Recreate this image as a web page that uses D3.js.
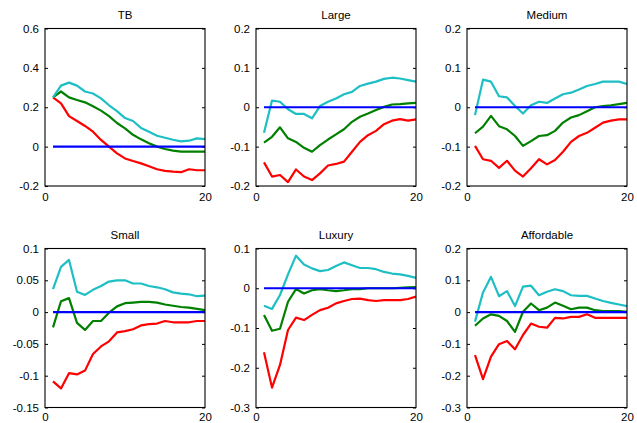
<!DOCTYPE html>
<html><head><meta charset="utf-8">
<script src="https://cdn.jsdelivr.net/npm/d3@7"></script>
<style>body{margin:0;background:#fff}svg{display:block}text{font-family:"Liberation Sans",Arial,sans-serif}</style>
</head><body>
<script>
const periods = d3.range(1, 21);
const panelTitles = ["TB", "Large", "Medium", "Small", "Luxury", "Affordable"];
const yDomains = [[-0.2, 0.6], [-0.2, 0.2], [-0.2, 0.2], [-0.15, 0.1], [-0.3, 0.1], [-0.3, 0.2]];
const yTicks = [
  [-0.2, 0, 0.2, 0.4, 0.6],
  [-0.2, -0.1, 0, 0.1, 0.2],
  [-0.2, -0.1, 0, 0.1, 0.2],
  [-0.15, -0.1, -0.05, 0, 0.05, 0.1],
  [-0.3, -0.2, -0.1, 0, 0.1],
  [-0.3, -0.2, -0.1, 0, 0.1, 0.2]
];
const xTicks = [0, 20];

const upper = [
  [0.25,0.31,0.325,0.31,0.28,0.27,0.245,0.21,0.18,0.145,0.13,0.095,0.075,0.055,0.045,0.035,0.027,0.03,0.042,0.038],
  [-0.065,0.017,0.014,-0.005,-0.017,-0.017,-0.028,0.003,0.014,0.022,0.033,0.039,0.054,0.06,0.065,0.072,0.075,0.073,0.069,0.065],
  [-0.02,0.07,0.065,0.028,0.025,0.003,-0.016,0.005,0.014,0.011,0.022,0.033,0.037,0.045,0.054,0.059,0.065,0.065,0.065,0.059],
  [0.036,0.071,0.082,0.032,0.027,0.035,0.041,0.048,0.05,0.05,0.045,0.045,0.041,0.039,0.036,0.031,0.029,0.028,0.025,0.026],
  [-0.044,-0.052,-0.017,0.035,0.082,0.06,0.05,0.043,0.046,0.056,0.065,0.058,0.051,0.051,0.048,0.041,0.037,0.035,0.031,0.026],
  [-0.03,0.062,0.111,0.05,0.066,0.019,0.08,0.083,0.053,0.064,0.072,0.066,0.053,0.051,0.051,0.043,0.035,0.029,0.024,0.019]
];
const median = [
  [0.25,0.28,0.25,0.237,0.225,0.205,0.183,0.155,0.12,0.093,0.06,0.037,0.017,0,-0.012,-0.02,-0.025,-0.025,-0.025,-0.025],
  [-0.09,-0.075,-0.051,-0.079,-0.088,-0.103,-0.113,-0.096,-0.082,-0.069,-0.056,-0.037,-0.024,-0.016,-0.007,0.001,0.007,0.008,0.01,0.011],
  [-0.066,-0.049,-0.022,-0.048,-0.056,-0.073,-0.098,-0.086,-0.073,-0.071,-0.06,-0.039,-0.026,-0.02,-0.01,0,0.003,0.005,0.008,0.011],
  [-0.024,0.017,0.022,-0.017,-0.028,-0.014,-0.014,-0.001,0.009,0.014,0.015,0.016,0.016,0.015,0.012,0.01,0.008,0.007,0.005,0.003],
  [-0.067,-0.107,-0.102,-0.034,-0.002,-0.013,-0.005,-0.002,-0.005,-0.007,-0.005,-0.002,-0.002,0,0,0,0,0.001,0.002,0.003],
  [-0.043,-0.02,-0.007,-0.012,-0.028,-0.062,0.001,0.027,0.006,0.014,0.03,0.02,0.009,0.014,0.014,0.006,0.003,0.003,0.003,0.001]
];
const lower = [
  [0.25,0.22,0.155,0.13,0.105,0.076,0.034,0,-0.034,-0.06,-0.073,-0.085,-0.1,-0.115,-0.123,-0.127,-0.13,-0.115,-0.12,-0.12],
  [-0.14,-0.176,-0.172,-0.19,-0.158,-0.176,-0.185,-0.168,-0.148,-0.144,-0.138,-0.113,-0.088,-0.071,-0.06,-0.043,-0.034,-0.03,-0.034,-0.031],
  [-0.098,-0.132,-0.136,-0.154,-0.136,-0.161,-0.176,-0.155,-0.132,-0.145,-0.134,-0.113,-0.088,-0.073,-0.065,-0.052,-0.039,-0.034,-0.031,-0.031],
  [-0.109,-0.12,-0.096,-0.098,-0.092,-0.066,-0.054,-0.046,-0.032,-0.03,-0.027,-0.021,-0.019,-0.018,-0.014,-0.016,-0.016,-0.016,-0.014,-0.014],
  [-0.161,-0.25,-0.193,-0.105,-0.074,-0.08,-0.067,-0.055,-0.049,-0.038,-0.032,-0.027,-0.026,-0.03,-0.032,-0.03,-0.03,-0.03,-0.027,-0.021],
  [-0.135,-0.211,-0.14,-0.101,-0.091,-0.117,-0.072,-0.036,-0.046,-0.049,-0.018,-0.02,-0.015,-0.015,-0.007,-0.018,-0.018,-0.018,-0.018,-0.018]
];
const zeroLine = periods.map(() => 0);

const W = 637, H = 423;
const colLeft = [45, 256, 467];
const rowTop = [28.5, 248.5];
const rowH = [157.5, 159];
const xPad = [7, 5.5];
const pw = 160;

const svg = d3.select("body").append("svg").attr("width", W).attr("height", H);

panelTitles.forEach((title, i) => {
  const c = i % 3, r = Math.floor(i / 3);
  const h = rowH[r];
  const g = svg.append("g").attr("transform", `translate(${colLeft[c]},${rowTop[r]})`);
  const x = d3.scaleLinear().domain([0, 20]).range([0, pw]);
  const y = d3.scaleLinear().domain(yDomains[i]).range([h, 0]);
  const fmt = d => String(+d.toFixed(2));

  const axL = g.append("g").call(d3.axisLeft(y).tickValues(yTicks[i]).tickFormat(fmt).tickSizeInner(-3).tickSizeOuter(0).tickPadding(6));
  const axR = g.append("g").attr("transform", `translate(${pw},0)`).call(d3.axisRight(y).tickValues(yTicks[i]).tickFormat("").tickSizeInner(-3).tickSizeOuter(0));
  const axB = g.append("g").attr("transform", `translate(0,${h})`).call(d3.axisBottom(x).tickValues(xTicks).tickFormat(d3.format("d")).tickSizeInner(0).tickSizeOuter(0).tickPadding(xPad[r]));
  [axL, axR, axB].forEach(a => {
    a.select(".domain").remove();
    a.selectAll("line").attr("stroke", "#000");
    a.selectAll("text").attr("font-size", 11.5).attr("fill", "#000");
  });

  const line = d3.line().x((d, k) => x(periods[k])).y(d => y(d));
  const series = [[lower[i], "#ff0000"], [median[i], "#008000"], [upper[i], "#1ebfc4"], [zeroLine, "#0000ff"]];
  series.forEach(([vals, col]) => {
    g.append("path").datum(vals).attr("d", line).attr("fill", "none")
      .attr("stroke", col).attr("stroke-width", 2.2).attr("stroke-linejoin", "round");
  });

  g.append("rect").attr("x", 0).attr("y", 0).attr("width", pw).attr("height", h)
    .attr("fill", "none").attr("stroke", "#000").attr("stroke-width", 1.1);

  g.append("text").attr("x", pw / 2).attr("y", -10).attr("text-anchor", "middle")
    .attr("font-size", 11.5).attr("fill", "#000").text(title);
});
</script>
</body></html>
